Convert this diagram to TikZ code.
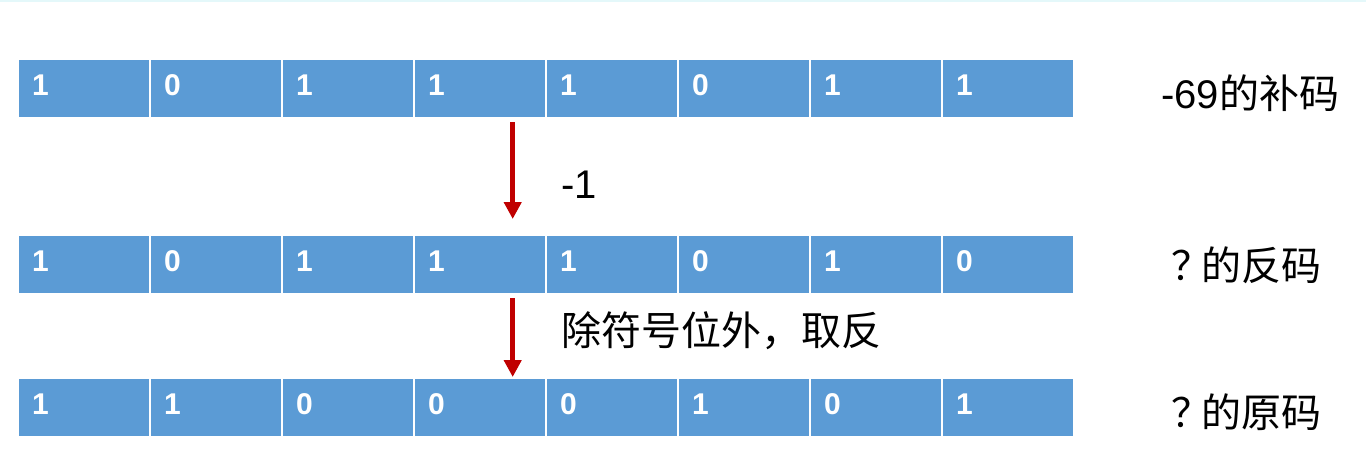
\documentclass[tikz,border=0pt]{standalone}
\usepackage{fontspec}
\setmainfont{Liberation Sans}
\newfontfamily\cjk{Noto Sans CJK SC}
\usetikzlibrary{arrows.meta}
\definecolor{bitblue}{RGB}{91,155,213}
\definecolor{stepred}{RGB}{192,0,0}
\definecolor{edgecyan}{RGB}{228,248,250}
\begin{document}
\begin{tikzpicture}[x=1pt,y=1pt,yscale=-1,
        bit/.style={draw=white,line width=2,fill=bitblue,text=white,font=\fontsize{30}{36}\selectfont\bfseries,minimum height=59,inner xsep=14,inner ysep=0,text width=104,align=left,text depth=7},
        note/.style={anchor=west,inner sep=0,font=\fontsize{40}{48}\selectfont},
        stepline/.style={draw=stepred,line width=5,-{Triangle[width=17,length=17]}}]
        \useasboundingbox (0,0) rectangle (1366,451);
        \draw [edgecyan,line width=2] (0,1) -- (1366,1);
        % -69
        \node [bit] (a1) at (84,88.5) {1};
        \node [bit] (a2) at (216,88.5) {0};
        \node [bit] (a3) at (348,88.5) {1};
        \node [bit] (a4) at (480,88.5) {1};
        \node [bit] (a5) at (612,88.5) {1};
        \node [bit] (a6) at (744,88.5) {0};
        \node [bit] (a7) at (876,88.5) {1};
        \node [bit] (a8) at (1008,88.5) {1};
        % ones complement
        \node [bit] (b1) at (84,264.5) {1};
        \node [bit] (b2) at (216,264.5) {0};
        \node [bit] (b3) at (348,264.5) {1};
        \node [bit] (b4) at (480,264.5) {1};
        \node [bit] (b5) at (612,264.5) {1};
        \node [bit] (b6) at (744,264.5) {0};
        \node [bit] (b7) at (876,264.5) {1};
        \node [bit] (b8) at (1008,264.5) {0};
        % sign magnitude
        \node [bit] (c1) at (84,407.5) {1};
        \node [bit] (c2) at (216,407.5) {1};
        \node [bit] (c3) at (348,407.5) {0};
        \node [bit] (c4) at (480,407.5) {0};
        \node [bit] (c5) at (612,407.5) {0};
        \node [bit] (c6) at (744,407.5) {1};
        \node [bit] (c7) at (876,407.5) {0};
        \node [bit] (c8) at (1008,407.5) {1};
        \node [note] (lblA) at (1161,93) {-69{\cjk 的补码}};
        \node [note] (lblB) at (1171,265) {\cjk ？\hspace{-10pt}的反码};
        \node [note] (lblC) at (1171,412) {\cjk ？\hspace{-10pt}的原码};
        \node [note] (stepA) at (561,185) {-1};
        \node [note] (stepB) at (561,331) {\cjk 除符号位外，取反};
        \coordinate (s1) at (512.7,122);
        \coordinate (e1) at (512.7,219);
        \coordinate (s2) at (512.7,298);
        \coordinate (e2) at (512.7,377);
        \draw [stepline] (s1) -- (e1);
        \draw [stepline] (s2) -- (e2);
    \end{tikzpicture}
\end{document}
